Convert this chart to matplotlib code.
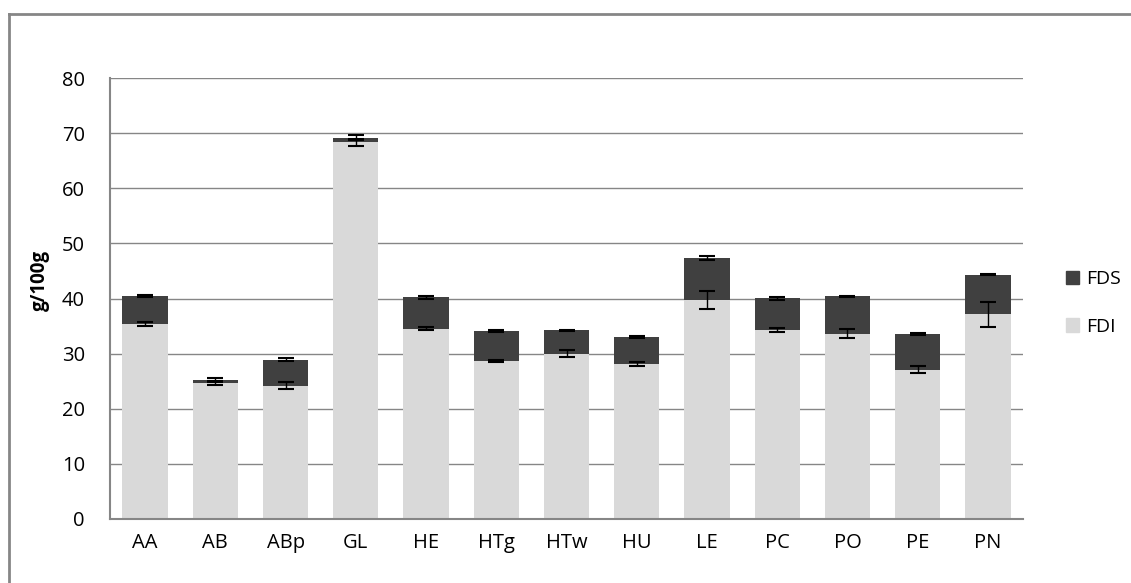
import matplotlib
matplotlib.use("Agg")
import matplotlib.pyplot as plt
from matplotlib.lines import Line2D
from matplotlib.patches import Patch
import numpy as np

plt.rcParams['font.family'] = ['Open Sans', 'DejaVu Sans']

categories = ['AA', 'AB', 'ABp', 'GL', 'HE', 'HTg', 'HTw', 'HU', 'LE', 'PC', 'PO', 'PE', 'PN']
fdi = [35.4, 24.6, 24.2, 68.3, 34.5, 28.7, 30.0, 28.1, 39.7, 34.3, 33.6, 27.1, 37.1]
fds = [5.1, 0.7, 4.7, 0.9, 5.7, 5.4, 4.2, 4.9, 7.6, 5.7, 6.8, 6.4, 7.2]
fdi_err = [0.3, 0.3, 0.7, 0.7, 0.3, 0.15, 0.7, 0.3, 1.6, 0.3, 0.8, 0.6, 2.3]
fds_err = [0.2, 0.3, 0.3, 0.4, 0.2, 0.15, 0.15, 0.15, 0.35, 0.35, 0.1, 0.2, 0.1]

FDI_COLOR = '#d9d9d9'
FDS_COLOR = '#404040'
GRID = '#868686'

fig = plt.figure(figsize=(11.31, 5.83), dpi=100)
ax = fig.add_axes([110 / 1131, 1 - 519 / 583, 913 / 1131, 441 / 583])

x = np.arange(len(categories))
w = 0.645
ax.bar(x, fdi, w, color=FDI_COLOR, zorder=2)
ax.bar(x, fds, w, bottom=fdi, color=FDS_COLOR, zorder=2)
ax.errorbar(x, fdi, yerr=fdi_err, fmt='none', ecolor='black', elinewidth=1,
            capsize=6, capthick=1.5, zorder=3)
total = np.array(fdi) + np.array(fds)
ax.errorbar(x, total, yerr=fds_err, fmt='none', ecolor='black', elinewidth=1,
            capsize=6, capthick=1.5, zorder=3)

ax.set_xlim(-0.5, len(categories) - 0.5)
ax.set_ylim(0, 80)
ax.set_yticks(range(0, 81, 10))
ax.set_xticks(x)
ax.set_xticklabels(categories)
ax.tick_params(axis='both', length=0, labelsize=14.5, colors='black')
ax.tick_params(axis='y', pad=18)
ax.tick_params(axis='x', pad=10)
ax.yaxis.grid(True, color=GRID, linewidth=1)
ax.set_axisbelow(True)
for s in ['top', 'right']:
    ax.spines[s].set_visible(False)
for s in ['left', 'bottom']:
    ax.spines[s].set_color(GRID)
    ax.spines[s].set_linewidth(1.5)
ax.set_ylabel('g/100g', fontsize=13.5, fontweight='bold')
ax.yaxis.set_label_coords(-0.066, 0.54)

handles = [Patch(color=FDS_COLOR, label='FDS'), Patch(color=FDI_COLOR, label='FDI')]
fig.legend(handles=handles, loc='center left', bbox_to_anchor=(1048 / 1131, 1 - 303 / 583),
           frameon=False, fontsize=14, handlelength=0.7, handleheight=0.7,
           handletextpad=0.35, labelspacing=1.5)

# outer chart border (left and top edges visible)
fig.add_artist(Line2D([9 / 1131, 9 / 1131], [0, 1 - 14 / 583], color=GRID, linewidth=2))
fig.add_artist(Line2D([9 / 1131, 1], [1 - 14 / 583, 1 - 14 / 583], color=GRID, linewidth=2))

fig.savefig('out.png', dpi=100)
